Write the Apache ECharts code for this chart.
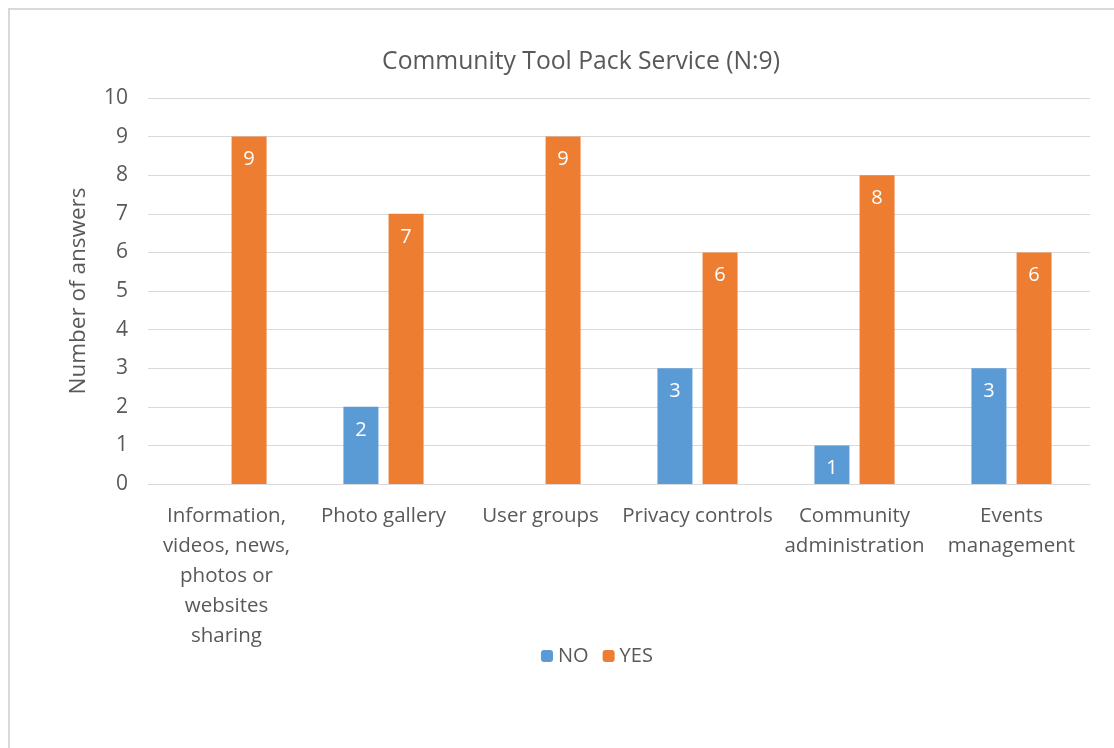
<!DOCTYPE html>
<html><head><meta charset="utf-8">
<script src="https://cdn.jsdelivr.net/npm/echarts@6/dist/echarts.min.js"></script>
<style>html,body{margin:0;padding:0;background:#fff}#c{width:1114px;height:748px}</style>
</head><body><div id="c"></div>
<script>
var categories = ['Information,\nvideos, news,\nphotos or\nwebsites\nsharing','Photo gallery','User groups','Privacy controls','Community\nadministration','Events\nmanagement'];
var noValues = [0,2,0,3,1,3];
var yesValues = [9,7,9,6,8,6];
var FONT = 'Open Sans';
var TXT = '#595959';
var chart = echarts.init(document.getElementById('c'));
function lab(){return {show:true,position:'insideTop',distance:13,color:'#fff',fontSize:20,fontFamily:FONT,
  formatter:function(p){return p.value===0?'':p.value;}};}
chart.setOption({
  animation:false,
  title:{text:'Community Tool Pack Service (N:9)',left:576,top:44,textAlign:'center',
    textStyle:{fontFamily:FONT,fontSize:24.7,fontWeight:'normal',color:TXT}},
  legend:{bottom:77,left:536,itemWidth:12,itemHeight:12,itemGap:14,
    textStyle:{fontFamily:FONT,fontSize:20,color:TXT},data:['NO','YES']},
  grid:{left:148,right:24,top:98,bottom:264},
  xAxis:{type:'category',data:categories,axisTick:{show:false},
    axisLine:{lineStyle:{color:'#d9d9d9',width:1}},
    axisLabel:{fontFamily:FONT,fontSize:20.5,color:TXT,lineHeight:30,margin:17,interval:0}},
  yAxis:{type:'value',min:0,max:10,interval:1,name:'Number of answers',nameLocation:'middle',nameGap:58,
    nameTextStyle:{fontFamily:FONT,fontSize:22.5,color:TXT},
    axisLabel:{fontFamily:FONT,fontSize:21,color:TXT,margin:20},
    splitLine:{lineStyle:{color:'#d9d9d9',width:1}}},
  graphic:[
    {type:'line',shape:{x1:8,y1:9,x2:1114,y2:9},style:{stroke:'#d9d9d9',lineWidth:2}},
    {type:'line',shape:{x1:9,y1:8,x2:9,y2:748},style:{stroke:'#d9d9d9',lineWidth:2}}
  ],
  series:[
    {name:'NO',type:'bar',data:noValues,barWidth:35,barGap:'29%',barCategoryGap:'49%',itemStyle:{color:'#5B9BD5'},label:lab()},
    {name:'YES',type:'bar',data:yesValues,barWidth:35,itemStyle:{color:'#ED7D31'},label:lab()}
  ]
});
</script></body></html>
